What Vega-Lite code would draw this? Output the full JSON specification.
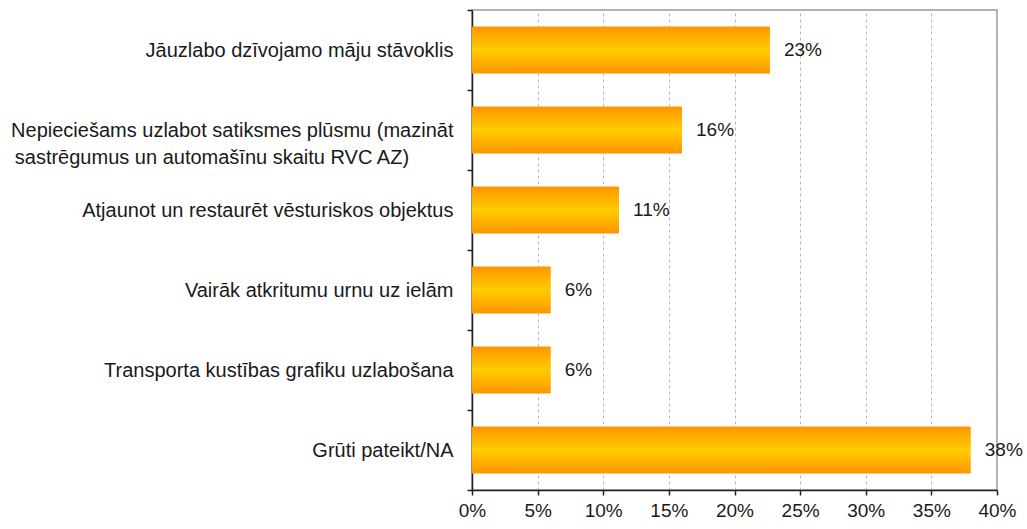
{
  "$schema": "https://vega.github.io/schema/vega-lite/v6.json",
  "autosize": "none",
  "width": 525,
  "height": 480,
  "padding": {"left": 472, "top": 10, "right": 30, "bottom": 39},
  "background": "white",
  "config": {
    "font": "Liberation Sans",
    "view": {"stroke": "#9a9a9a", "strokeWidth": 1.5}
  },
  "data": {
    "values": [
      {"category": "Jāuzlabo dzīvojamo māju stāvoklis", "share": 0.227},
      {"category": "Nepiecie\u0161ams uzlabot satiksmes plūsmu (mazināt|sastrēgumus un automa\u0161īnu skaitu RVC AZ)", "share": 0.16},
      {"category": "Atjaunot un restaurēt vēsturiskos objektus", "share": 0.112},
      {"category": "Vairāk atkritumu urnu uz ielām", "share": 0.06},
      {"category": "Transporta kustības grafiku uzlabo\u0161ana", "share": 0.06},
      {"category": "Grūti pateikt/NA", "share": 0.38}
    ]
  },
  "encoding": {
    "y": {
      "field": "category",
      "type": "nominal",
      "sort": null,
      "scale": {"paddingInner": 0, "paddingOuter": 0},
      "axis": {
        "title": null,
        "tickBand": "extent",
        "domainColor": "#222222",
        "domainWidth": 1.5,
        "tickColor": "#222222",
        "tickWidth": 1.5,
        "tickSize": 5,
        "labelFont": "Liberation Sans",
        "labelFontSize": 20,
        "labelColor": "#1a1a1a",
        "labelLimit": 600,
        "labelLineHeight": 27,
        "labelExpr": "indexof(datum.label, '|') >= 0 ? [split(datum.label, '|')[0], split(datum.label, '|')[1] + '\u00a0\u00a0\u00a0\u00a0\u00a0\u00a0\u00a0\u00a0\u200b'] : datum.label",
        "labelPadding": 14
      }
    },
    "x": {
      "field": "share",
      "type": "quantitative",
      "scale": {"domain": [0, 0.4], "nice": false},
      "axis": {
        "title": null,
        "values": [0, 0.05, 0.1, 0.15, 0.2, 0.25, 0.3, 0.35, 0.4],
        "format": ".0%",
        "grid": true,
        "gridColor": "#b8b8b8",
        "gridDash": [3, 3],
        "gridWidth": 1,
        "domainColor": "#222222",
        "domainWidth": 1.5,
        "tickColor": "#222222",
        "tickWidth": 1.5,
        "tickSize": 5,
        "labelFlush": false,
        "labelFont": "Liberation Sans",
        "labelFontSize": 19,
        "labelColor": "#1a1a1a",
        "labelPadding": 6
      }
    }
  },
  "layer": [
    {
      "mark": {
        "type": "bar",
        "height": {"band": 0.59},
        "color": {
          "gradient": "linear",
          "x1": 0, "y1": 0, "x2": 0, "y2": 1,
          "stops": [
            {"offset": 0, "color": "#FF9500"},
            {"offset": 0.5, "color": "#FFCC00"},
            {"offset": 1, "color": "#FF9500"}
          ]
        }
      }
    },
    {
      "mark": {
        "type": "text",
        "align": "left",
        "baseline": "middle",
        "dx": 14,
        "font": "Liberation Sans",
        "fontSize": 19,
        "color": "#1a1a1a"
      },
      "encoding": {
        "text": {"field": "share", "type": "quantitative", "format": ".0%"}
      }
    }
  ]
}
